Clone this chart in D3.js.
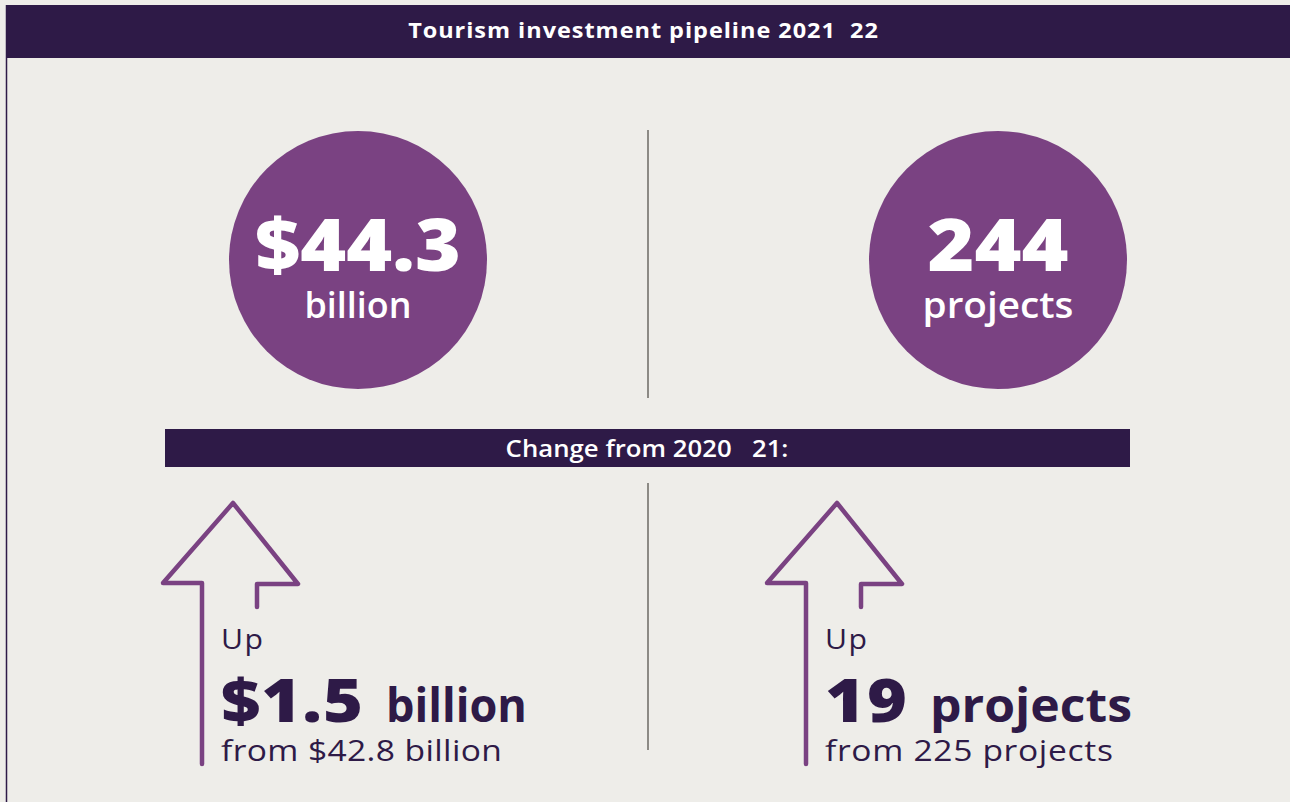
<!DOCTYPE html>
<html>
<head>
<meta charset="utf-8">
<script src="https://cdn.jsdelivr.net/npm/d3@7"></script>
<style>
  body { margin: 0; background: #eeede9; }
  svg text { font-family: "Open Sans", Lato, sans-serif; white-space: pre; }
</style>
</head>
<body>
<svg></svg>
<script>
const title = "Tourism investment pipeline 2021  22";
const subtitle = "Change from 2020   21:";
const panels = ["value", "count"];
const totals = ["$44.3", "244"];
const totalUnits = ["billion", "projects"];
const changes = ["$1.5", "19"];
const changeUnits = ["billion", "projects"];
const previous = ["from $42.8 billion", "from 225 projects"];

const width = 1290, height = 802;
const dark = "#2e1a47", purple = "#7a4282", bg = "#eeede9";

// widths the texts take in the reference; the font here is narrower,
// so each text is widened a little, then letter-spaced for the rest
const fit = {
    title: 470, subtitle: 283, up: 42,
    total: [206, 141], totalUnit: [107, 151],
    change: [142, 82], changeUnit: [141, 202], prev: [281, 288]
};

function spread(sel, target) {
    sel.each(function(d, i) {
        const t = d3.select(this);
        const w = typeof target === "function" ? target(d, i) : target;
        const n = this.getNumberOfChars();
        const len = this.getComputedTextLength();
        const sx = Math.max(0.95, Math.min(1.12, w / len));
        const ls = (w / sx - len) / (n - 1);
        const x = +t.attr("x") || 0;
        const anchor = t.attr("text-anchor");
        t.attr("letter-spacing", ls)
         .attr("dx", anchor === "middle" ? ls / 2 : 0)
         .attr("transform", `translate(${x},0) scale(${sx},1) translate(${-x},0)`);
    });
}

const svg = d3.select("svg")
    .attr("width", width)
    .attr("height", height);

svg.append("rect")
    .attr("width", width)
    .attr("height", height)
    .attr("fill", bg);

// frame: left rule + title bar
svg.append("line")
    .attr("x1", 6.5).attr("x2", 6.5)
    .attr("y1", 5).attr("y2", height)
    .attr("stroke", dark)
    .attr("stroke-width", 1.5);

svg.append("rect")
    .attr("x", 6).attr("y", 5)
    .attr("width", width - 6).attr("height", 53)
    .attr("fill", dark);

svg.append("text")
    .attr("x", 643).attr("y", 38)
    .attr("text-anchor", "middle")
    .attr("fill", "#fff")
    .attr("font-size", 21)
    .attr("font-weight", 700)
    .text(title)
    .call(spread, fit.title);

const xTop = d3.scalePoint().domain(panels).range([358, 998]);
const xBottom = d3.scalePoint().domain(panels).range([233, 837]);

const rows = panels.map((p, i) => ({
    key: p, total: totals[i], totalUnit: totalUnits[i],
    change: changes[i], changeUnit: changeUnits[i], prev: previous[i]
}));

// dividers
svg.selectAll(".divider")
    .data([[130, 398], [483, 750]])
    .enter().append("line")
    .attr("class", "divider")
    .attr("x1", 648).attr("x2", 648)
    .attr("y1", d => d[0]).attr("y2", d => d[1])
    .attr("stroke", "#8c8a85")
    .attr("stroke-width", 2);

// top circles
const totalG = svg.selectAll(".total")
    .data(rows)
    .enter().append("g")
    .attr("class", "total")
    .attr("transform", d => `translate(${xTop(d.key)},260)`);

totalG.append("circle")
    .attr("r", 129)
    .attr("fill", purple);

totalG.append("text")
    .attr("y", 11)
    .attr("text-anchor", "middle")
    .attr("fill", "#fff")
    .attr("font-size", 72)
    .attr("font-weight", 800)
    .text(d => d.total)
    .call(spread, (d, i) => fit.total[i]);

totalG.append("text")
    .attr("y", 58)
    .attr("text-anchor", "middle")
    .attr("fill", "#fff")
    .attr("font-size", 36)
    .attr("font-weight", 600)
    .text(d => d.totalUnit)
    .call(spread, (d, i) => fit.totalUnit[i]);

// change banner
svg.append("rect")
    .attr("x", 165).attr("y", 429)
    .attr("width", 965).attr("height", 38)
    .attr("fill", dark);

svg.append("text")
    .attr("x", 647).attr("y", 457)
    .attr("text-anchor", "middle")
    .attr("fill", "#fff")
    .attr("font-size", 23)
    .attr("font-weight", 600)
    .text(subtitle)
    .call(spread, fit.subtitle);

// arrows + change text
const arrow = d3.line();
const arrowPts = [[-31, 261], [-31, 80], [-70, 80], [0, 0], [65, 81], [24, 81], [24, 104]];

const changeG = svg.selectAll(".change")
    .data(rows)
    .enter().append("g")
    .attr("class", "change")
    .attr("transform", d => `translate(${xBottom(d.key)},503)`);

changeG.append("path")
    .attr("d", arrow(arrowPts))
    .attr("fill", "none")
    .attr("stroke", purple)
    .attr("stroke-width", 4.5)
    .attr("stroke-linejoin", "round")
    .attr("stroke-linecap", "round");

changeG.append("text")
    .attr("x", -12).attr("y", 146)
    .attr("fill", dark)
    .attr("font-size", 27)
    .attr("font-weight", 400)
    .text("Up")
    .call(spread, fit.up);

changeG.append("text")
    .attr("x", -12).attr("y", 219)
    .attr("fill", dark)
    .attr("font-size", 61)
    .attr("font-weight", 800)
    .text(d => d.change)
    .call(spread, (d, i) => fit.change[i]);

changeG.append("text")
    .attr("x", (d, i) => -12 + fit.change[i] + 23)
    .attr("y", 219)
    .attr("fill", dark)
    .attr("font-size", 46)
    .attr("font-weight", 700)
    .text(d => d.changeUnit)
    .call(spread, (d, i) => fit.changeUnit[i]);

changeG.append("text")
    .attr("x", -12).attr("y", 258)
    .attr("fill", dark)
    .attr("font-size", 30)
    .attr("font-weight", 400)
    .text(d => d.prev)
    .call(spread, (d, i) => fit.prev[i]);
</script>
</body>
</html>
